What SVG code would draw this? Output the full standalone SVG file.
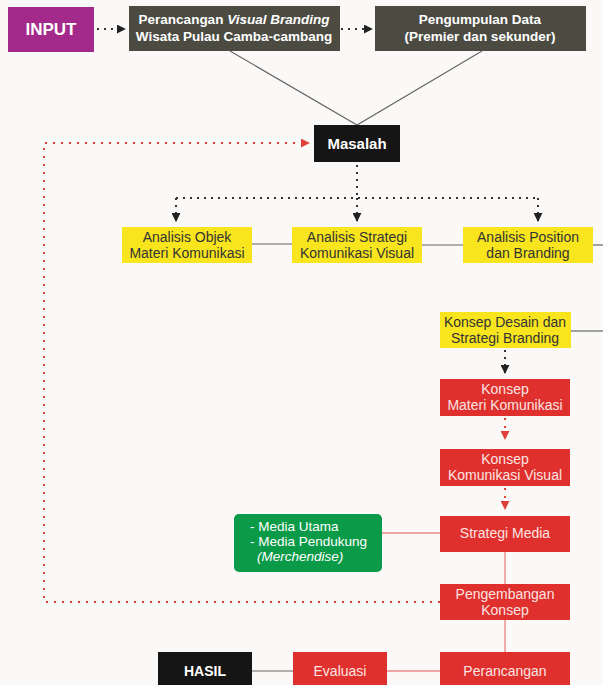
<svg xmlns="http://www.w3.org/2000/svg" width="603" height="685" viewBox="0 0 603 685">
<defs>
<marker id="ab" viewBox="0 0 10 10" refX="9" refY="5" markerWidth="4.5" markerHeight="4.5" orient="auto"><path d="M0,0 L10,5 L0,10 z" fill="#222"/></marker>
<marker id="ar" viewBox="0 0 10 10" refX="9" refY="5" markerWidth="4.5" markerHeight="4.5" orient="auto"><path d="M0,0 L10,5 L0,10 z" fill="#e0403a"/></marker>
</defs>
<style>
text{font-family:"Liberation Sans",Arial,sans-serif;text-anchor:middle}
.in{fill:#a3298a}.gr{fill:#4b4b42}.bk{fill:#151515}.ye{fill:#f8e51e}.rd{fill:#df302d}.gn{fill:#0b9a48}
.tw{fill:#fff;font-weight:bold}.ty{fill:#333;font-size:14px}.tr{fill:#fbe4e2;font-size:14px}
.ln{stroke:#666;stroke-width:1.2;fill:none}.lr{stroke:#e88a85;stroke-width:1.4;fill:none}
.db{stroke:#333;stroke-width:2;stroke-dasharray:2 5;fill:none}
.dr{stroke:#e0403a;stroke-width:2;stroke-dasharray:2 6;fill:none}
</style>
<rect width="603" height="685" fill="#fbf9f7"/>
<g id="connectors">
<path class="db" d="M97,29 H125" marker-end="url(#ab)" stroke-width="1.5" stroke-dasharray="1.5 2.5" stroke="#777"/>
<path class="db" d="M341,29 H372" marker-end="url(#ab)" stroke-width="1.5" stroke-dasharray="1.5 2.5" stroke="#777"/>
<path class="ln" d="M230,51 L357,125 L482,51"/>
<path class="db" d="M357,165 V198"/>
<path class="db" d="M176,198 H538"/>
<path class="db" d="M176,198 V221" marker-end="url(#ab)"/>
<path class="db" d="M357,198 V221" marker-end="url(#ab)"/>
<path class="db" d="M538,198 V221" marker-end="url(#ab)"/>
<path class="ln" d="M252,244 H292"/>
<path class="ln" d="M422,245 H463" stroke="#888" stroke-width="2"/>
<path class="ln" d="M593,245 H603" stroke="#888" stroke-width="2"/>
<path class="ln" d="M571,331 H603" stroke="#888" stroke-width="2"/>
<path class="db" d="M505,350 V373" marker-end="url(#ab)" stroke="#999" stroke-width="1.5" stroke-dasharray="2 3"/>
<path class="dr" d="M505,418 V439" marker-end="url(#ar)" stroke-width="1.5" stroke-dasharray="2 3"/>
<path class="dr" d="M505,488 V509" marker-end="url(#ar)" stroke-width="1.5" stroke-dasharray="2 3"/>
<path class="lr" d="M382,533 H440"/>
<path class="lr" d="M505,552 V584"/>
<path class="lr" d="M505,620 V652"/>
<path class="lr" d="M387,671 H440"/>
<path class="ln" d="M252,671 H293"/>
<path class="dr" d="M440,602 H44 V143 H309" marker-end="url(#ar)"/>
</g>
<g id="input"><rect class="in" x="8" y="7" width="86" height="45"/><text class="tw" x="51" y="35" font-size="17">INPUT</text></g>
<g id="perancangan-visual"><rect class="gr" x="129" y="6" width="211" height="45"/><text class="tw" x="234" y="24" font-size="13.5">Perancangan <tspan font-style="italic">Visual Branding</tspan></text><text class="tw" x="234" y="41" font-size="13.5">Wisata Pulau Camba-cambang</text></g>
<g id="pengumpulan"><rect class="gr" x="375" y="6" width="211" height="45"/><text class="tw" x="480" y="24" font-size="13.5">Pengumpulan Data</text><text class="tw" x="480" y="41" font-size="13.5">(Premier dan sekunder)</text></g>
<g id="masalah"><rect class="bk" x="314" y="125" width="86" height="37"/><text class="tw" x="357" y="149" font-size="15">Masalah</text></g>
<g id="analisis-objek"><rect class="ye" x="122" y="227" width="130" height="36"/><text class="ty" x="187" y="242">Analisis Objek</text><text class="ty" x="187" y="258">Materi Komunikasi</text></g>
<g id="analisis-strategi"><rect class="ye" x="292" y="227" width="130" height="36"/><text class="ty" x="357" y="242">Analisis Strategi</text><text class="ty" x="357" y="258">Komunikasi Visual</text></g>
<g id="analisis-position"><rect class="ye" x="463" y="227" width="130" height="36"/><text class="ty" x="528" y="242">Analisis Position</text><text class="ty" x="528" y="258">dan Branding</text></g>
<g id="konsep-desain"><rect class="ye" x="440" y="312" width="131" height="36"/><text class="ty" x="505" y="327">Konsep Desain dan</text><text class="ty" x="505" y="343">Strategi Branding</text></g>
<g id="konsep-materi"><rect class="rd" x="440" y="379" width="130" height="37"/><text class="tr" x="505" y="394">Konsep</text><text class="tr" x="505" y="410">Materi Komunikasi</text></g>
<g id="konsep-komunikasi"><rect class="rd" x="440" y="449" width="130" height="37"/><text class="tr" x="505" y="464">Konsep</text><text class="tr" x="505" y="480">Komunikasi Visual</text></g>
<g id="strategi-media"><rect class="rd" x="440" y="516" width="130" height="36"/><text class="tr" x="505" y="538">Strategi Media</text></g>
<g id="media"><rect class="gn" x="234" y="514" width="148" height="58" rx="5"/><text fill="#fff" font-size="13.5" style="text-anchor:start" x="250" y="531">- Media Utama</text><text fill="#fff" font-size="13.5" style="text-anchor:start" x="250" y="546">- Media Pendukung</text><text fill="#fff" font-size="13.5" font-style="italic" style="text-anchor:start" x="257" y="561">(Merchendise)</text></g>
<g id="pengembangan"><rect class="rd" x="440" y="584" width="130" height="36"/><text class="tr" x="505" y="599">Pengembangan</text><text class="tr" x="505" y="615">Konsep</text></g>
<g id="hasil"><rect class="bk" x="158" y="652" width="94" height="33"/><text class="tw" x="205" y="676" font-size="14">HASIL</text></g>
<g id="evaluasi"><rect class="rd" x="293" y="652" width="94" height="33"/><text class="tr" x="340" y="676">Evaluasi</text></g>
<g id="perancangan"><rect class="rd" x="440" y="652" width="130" height="33"/><text class="tr" x="505" y="676">Perancangan</text></g>
</svg>
